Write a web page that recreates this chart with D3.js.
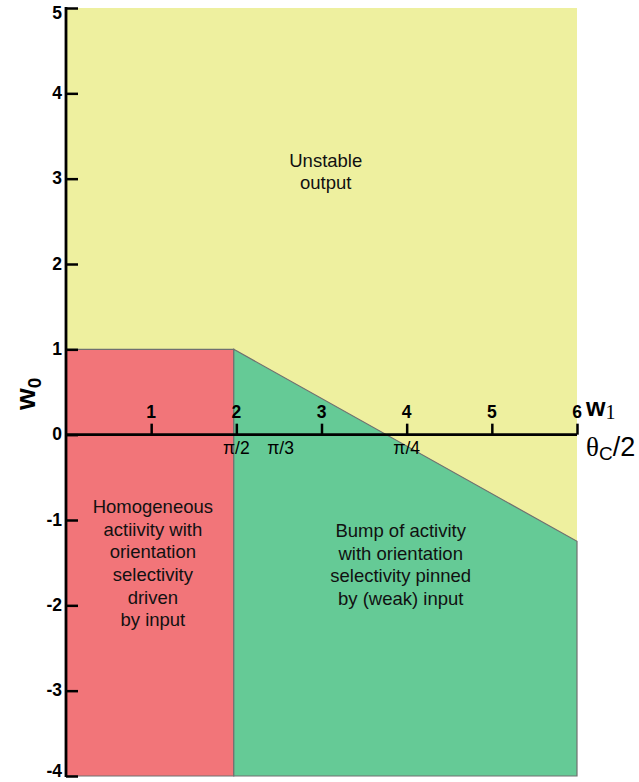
<!DOCTYPE html>
<html>
<head>
<meta charset="utf-8">
<script src="https://cdn.jsdelivr.net/npm/d3@7"></script>
<style>
  body { margin: 0; background: #fff; }
  text { font-family: "Liberation Sans", Arial, sans-serif; }
</style>
</head>
<body>
<svg id="chart" width="639" height="782"></svg>
<script>
// axis ticks
var xTicks = [1, 2, 3, 4, 5, 6];
var yTicks = [-4, -3, -2, -1, 0, 1, 2, 3, 4, 5];
// theta_c/2 labels under the w1 axis
var thetaPos = [2, 2.52, 4.0];
var thetaText = ["\u03c0/2", "\u03c0/3", "\u03c0/4"];

// phase regions (w1, w0 corners)
var regionNames = ["unstable", "homogeneous", "bump"];
var regionColors = ["#EEF09F", "#F27579", "#65CA96"];
var regionPoints = [
  [[0, -4], [6, -4], [6, 5], [0, 5]],
  [[0, -4], [1.97, -4], [1.97, 1], [0, 1]],
  [[1.97, -4], [6, -4], [6, -1.25], [1.97, 1]]
];
var regionLabels = [
  ["Unstable", "output"],
  ["Homogeneous", "actiivity with", "orientation", "selectivity", "driven", "by input"],
  ["Bump of activity", "with orientation", "selectivity pinned", "by (weak) input"]
];
var labelAt = [[3.05, 3.14], [1.02, -0.92], [3.93, -1.2]];

var svg = d3.select("#chart");
var x = d3.scaleLinear().domain([0, 6]).range([66, 577]);
var y = d3.scaleLinear().domain([-4, 5]).range([776, 8]);

var line = d3.line().x(function(d) { return x(d[0]); }).y(function(d) { return y(d[1]); });

// regions
svg.selectAll("path.region")
  .data(regionPoints)
  .enter().append("path")
  .attr("class", "region")
  .attr("d", function(d) { return line(d) + "Z"; })
  .style("fill", function(d, i) { return regionColors[i]; })
  .style("stroke", function(d, i) { return i == 0 ? "none" : "#707070"; })
  .style("stroke-width", 1.2);

// region text
regionLabels.forEach(function(lines, i) {
  var t = svg.append("text")
    .attr("text-anchor", "middle")
    .attr("x", x(labelAt[i][0]))
    .attr("y", y(labelAt[i][1]))
    .style("font-size", "18.5px")
    .style("fill", "#111");
  lines.forEach(function(s, k) {
    t.append("tspan").attr("x", x(labelAt[i][0])).attr("dy", k == 0 ? 0 : 22.6).text(s);
  });
});

// y axis (ticks point inward)
var yAxis = d3.axisRight(y).tickValues(yTicks).tickSize(12).tickFormat("");
var gy = svg.append("g").attr("transform", "translate(" + x(0) + ",0)").call(yAxis);
gy.select(".domain").remove();
gy.selectAll(".tick line").style("stroke", "#000").style("stroke-width", 2.5);
svg.append("line")
  .attr("x1", x(0)).attr("x2", x(0))
  .attr("y1", y(5) - 1).attr("y2", y(-4) + 1)
  .style("stroke", "#000").style("stroke-width", 2.8);
svg.selectAll("text.ylab")
  .data(yTicks)
  .enter().append("text")
  .attr("class", "ylab")
  .attr("x", x(0) - 4)
  .attr("y", function(d) {
    // end labels are kept inside the picture
    return Math.min(Math.max(y(d) + 5.5, 19), 777);
  })
  .attr("text-anchor", "end")
  .style("font-size", "17.5px").style("font-weight", "bold")
  .text(function(d) { return d; });

// w1 axis along w0 = 0 (ticks point up, labels above)
var xAxis = d3.axisTop(x).tickValues(xTicks).tickSize(11).tickFormat("");
var gx = svg.append("g").attr("transform", "translate(0," + y(0) + ")").call(xAxis);
gx.select(".domain").remove();
gx.selectAll(".tick line").style("stroke", "#000").style("stroke-width", 2.5);
svg.append("line")
  .attr("x1", x(0)).attr("x2", x(6))
  .attr("y1", y(0)).attr("y2", y(0))
  .style("stroke", "#000").style("stroke-width", 2.8);
svg.selectAll("text.xlab")
  .data(xTicks)
  .enter().append("text")
  .attr("class", "xlab")
  .attr("x", function(d) { return x(d); })
  .attr("y", y(0) - 17)
  .attr("text-anchor", "middle")
  .style("font-size", "17.5px").style("font-weight", "bold")
  .text(function(d) { return d; });

// theta labels
svg.selectAll("text.theta")
  .data(thetaPos)
  .enter().append("text")
  .attr("class", "theta")
  .attr("x", function(d) { return x(d); })
  .attr("y", y(0) + 19)
  .attr("text-anchor", "middle")
  .style("font-size", "17.5px")
  .text(function(d, i) { return thetaText[i]; });

// axis titles
var w0 = svg.append("text")
  .attr("transform", "translate(35,410) rotate(-90)")
  .style("font-size", "28px").style("font-weight", "bold");
w0.append("tspan").text("w");
w0.append("tspan").attr("dy", 6).style("font-size", "19px").text("0");

var w1 = svg.append("text").attr("x", 586).attr("y", 416)
  .style("font-size", "25px").style("font-weight", "bold");
w1.append("tspan").text("w");
w1.append("tspan").attr("dy", 3)
  .style("font-family", "'Liberation Serif', 'Times New Roman', serif")
  .style("font-weight", "normal").style("font-size", "20px").text("1");

var th = svg.append("text").attr("x", 586).attr("y", 456).style("font-size", "27px");
th.append("tspan").style("font-family", "'Liberation Serif', 'Times New Roman', serif").text("\u03b8");
th.append("tspan").attr("dy", 4).style("font-size", "19px").text("C");
th.append("tspan").attr("dy", -4).text("/2");
</script>
</body>
</html>
